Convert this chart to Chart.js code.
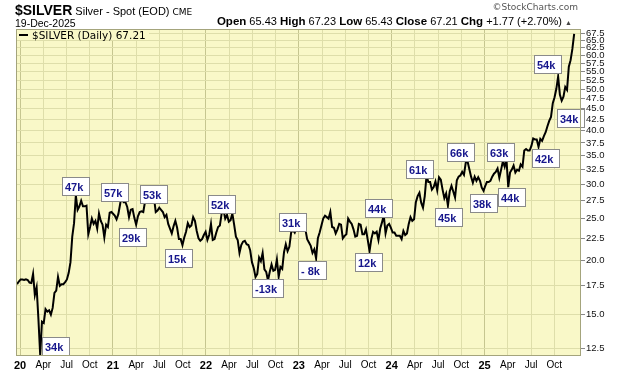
<!DOCTYPE html>
<html><head><meta charset="utf-8">
<script src="https://cdn.jsdelivr.net/npm/chart.js@4.4.1/dist/chart.umd.min.js"></script>
<style>
html,body{margin:0;padding:0;background:#fff;}
#wrap{position:relative;width:620px;height:376px;overflow:hidden;font-family:"Liberation Sans",Arial,sans-serif;}
#c{position:absolute;left:0;top:0;}
.t{position:absolute;white-space:nowrap;color:#000;line-height:1;}
</style></head><body>
<div id="wrap">
<canvas id="c" width="620" height="376"></canvas>
<div class="t" style="left:15px;top:2px;"><span style="font-size:14px;font-weight:bold;">$SILVER</span><span style="font-size:11px;"> Silver - Spot (EOD) </span><span style="font-size:9px;font-family:'DejaVu Sans';">CME</span></div>
<div class="t" style="left:15px;top:18px;font-size:10.5px;">19-Dec-2025</div>
<div class="t" style="right:48px;top:16px;font-size:11px;"><b style="font-size:11.5px">Open</b> 65.43 <b style="font-size:11.5px">High</b> 67.23 <b style="font-size:11.5px">Low</b> 65.43 <b style="font-size:11.5px">Close</b> 67.21 <b style="font-size:11.5px">Chg</b> +1.77 (+2.70%) <span style="font-size:7px;color:#444;">&#9650;</span></div>
<div class="t" style="right:42px;top:3px;font-size:9px;color:#555;font-family:'DejaVu Sans';">&copy;StockCharts.com</div>
<div class="t" style="left:17px;top:30px;height:10px;padding:0 3px 0 2px;background:#f9f8c8;font-size:10.5px;font-family:'DejaVu Sans';"><span style="display:inline-block;width:9px;height:2px;background:#000;vertical-align:3px;margin-right:4px;"></span>$SILVER (Daily) 67.21</div>
</div>
<script>
// ---- data (weekly closes) ----
const years = [2020, 2021, 2022, 2023, 2024, 2025];
const firstFridayDOY = [2, 7, 6, 5, 4, 2];
const lead2019 = [17.60, 17.85];           // Dec 20, Dec 27 2019
const s2020 = [18.05,18.05,18.00,18.07,18.00, 17.75,17.70,18.60,16.60, 17.30,14.60,12.05,14.40,
  14.30,15.40,15.20,15.30, 14.95,15.50,16.80,17.00,18.30, 17.45,17.60,17.60,17.80,
  18.05,18.70,19.80,22.70,24.40, 28.30,26.20,26.70,27.50, 26.70,26.70,26.80,23.00,
  23.90,25.00,24.30,24.70,23.70, 25.70,24.70,24.20,22.60, 24.20,23.90,25.80,25.90];
const s2021 = [25.40,24.90,25.60,27.00, 28.60,27.30,27.30,26.60, 25.20,26.20,26.30,25.10,
  24.20,25.30,25.90,26.00,25.90, 27.40,27.40,27.90,27.90, 27.90,28.00,25.90,26.10,
  26.50,26.20,25.90,25.20,25.50, 24.30,23.70,23.10,24.00, 24.70,23.80,22.40,22.40,
  21.70,22.60,23.30,24.40,23.90, 24.10,25.20,24.70,23.40, 22.50,22.20,22.40,22.90,23.30];
const s2022 = [22.30,22.90,24.30,22.30, 22.40,23.20,23.90,24.10, 25.70,26.20,25.00,25.50,
  24.60,24.80,25.70,24.20,22.70, 22.30,20.80,21.70,22.10, 22.20,21.80,21.70,21.10,
  19.80,19.20,18.30,18.60,20.30, 19.90,20.80,19.05,18.80, 17.95,18.80,19.55,18.90,19.00,
  20.10,18.30,19.30,19.10, 20.90,21.80,21.00,21.50, 23.20,23.50,23.20,23.80,24.00];
const s2023 = [23.90,24.30,23.90,23.60, 22.40,22.00,21.60,20.80, 21.20,20.20,22.50,23.20,24.10,
  25.00,25.40,25.20,25.00, 25.90,23.90,23.80,23.10, 23.60,24.30,24.20,22.50,22.80,
  23.00,25.00,24.60,24.30, 23.60,22.70,22.80,24.30, 24.20,23.00,23.00,23.60,22.30,
  21.00,22.40,23.30,23.10, 23.30,22.30,23.70,24.50, 25.40,23.10,24.10,24.30,23.80];
const s2024 = [23.20,23.20,22.80,22.80, 22.80,22.40,23.40,22.90, 23.10,24.30,25.20,24.70,24.90,
  27.30,28.20,28.70,27.20, 26.50,28.20,31.50,30.40,30.40, 29.20,29.60,30.50,29.10,
  31.20,30.80,29.20,27.90, 28.60,26.80,28.90,29.80,28.90, 28.00,30.70,31.30,31.50,
  32.10,31.60,33.70,34.00, 32.60,31.30,30.30,31.30,30.60, 31.20,30.60,29.50,29.00];
const s2025 = [29.70,30.40,30.40,30.60,31.30, 31.80,32.10,32.70,31.10, 32.50,34.00,33.00,34.30,
  29.60,32.00,32.50,33.20, 32.00,32.50,32.30,33.40,33.00, 36.00,36.30,36.00,36.00,
  36.90,38.40,38.20,38.20, 36.70,38.30,37.90,38.90,39.70, 41.00,42.20,43.10,46.40,
  47.90,50.10,53.50,48.50,47.00, 48.00,50.60,49.80,56.40, 58.40,62.00,67.21];
const series = [s2020, s2021, s2022, s2023, s2024, s2025];

const yTicks = [12.5,15.0,17.5,20.0,22.5,25.0,27.5,30.0,32.5,35.0,37.5,40.0,42.5,45.0,47.5,50.0,52.5,55.0,57.5,60.0,62.5,65.0,67.5];
const monthNames = ['', 'Apr', 'Jul', 'Oct'];

// volume-change call-outs (text, date as decimal year, price level)
const annText = ['34k','47k','57k','53k','29k','15k','52k','-13k','31k','- 8k','12k','44k','61k','45k','66k','38k','63k','44k','42k','54k','34k'];
const annT = [2020.386,2020.602,2021.022,2021.441,2021.215,2021.710,2022.173,2022.668,2022.937,2023.152,2023.755,2023.862,2024.304,2024.616,2024.745,2024.993,2025.176,2025.294,2025.660,2025.682,2025.929];
const annP = [12.63,29.76,28.81,28.51,22.65,20.24,27.03,17.24,24.54,18.97,19.81,26.45,32.59,25.20,35.69,27.17,35.69,28.05,34.56,57.2,42.81];

// ---- build ----
const points = [];
points.push({x: 2019 + 353/365, y: lead2019[0]});
points.push({x: 2019 + 360/365, y: lead2019[1]});
years.forEach((yr, k) => {
  series[k].forEach((v, i) => points.push({x: yr + (firstFridayDOY[k] + 7 * i) / 365, y: v}));
});
const quarterTicks = [];
years.forEach(yr => { for (let q = 0; q < 4; q++) quarterTicks.push(yr + q / 4); });

const FAM = '"Liberation Sans", Arial, sans-serif';
const isYear = v => Math.abs(v - Math.round(v)) < 1e-6;

const bgPlugin = {
  id: 'bg',
  beforeDraw(chart) {
    const {ctx, chartArea: a} = chart;
    ctx.save();
    ctx.fillStyle = '#ffffff';
    ctx.fillRect(0, 0, chart.width, chart.height);
    ctx.fillStyle = '#f9f8c8';
    ctx.fillRect(a.left, a.top, a.right - a.left, a.bottom - a.top);
    ctx.restore();
  },
  afterDraw(chart) {
    const {ctx, chartArea: a} = chart;
    ctx.save();
    ctx.strokeStyle = '#a4a47c';
    ctx.lineWidth = 1;
    ctx.strokeRect(a.left + 0.5, a.top + 0.5, a.right - a.left - 1, a.bottom - a.top - 1);
    ctx.restore();
  }
};

const annPlugin = {
  id: 'ann',
  afterDatasetsDraw(chart) {
    const {ctx} = chart;
    const xs = chart.scales.x, ys = chart.scales.y;
    ctx.save();
    ctx.font = 'bold 11px ' + FAM;
    ctx.textBaseline = 'middle';
    annText.forEach((t, i) => {
      const cx = xs.getPixelForValue(annT[i]);
      const cy = ys.getPixelForValue(annP[i]);
      const w = Math.round(ctx.measureText(t).width) + 10, h = 19;
      const x0 = Math.round(cx - w / 2), y0 = Math.round(cy - h / 2);
      ctx.fillStyle = '#ffffff';
      ctx.fillRect(x0, y0, w, h);
      ctx.strokeStyle = '#8a8a8a';
      ctx.lineWidth = 1;
      ctx.strokeRect(x0 + 0.5, y0 + 0.5, w - 1, h - 1);
      ctx.fillStyle = '#16168c';
      ctx.fillText(t, x0 + 3, y0 + h / 2 + 1);
    });
    ctx.restore();
  }
};

new Chart(document.getElementById('c'), {
  type: 'line',
  data: {datasets: [{data: points, borderColor: '#000', borderWidth: 2, pointRadius: 0, tension: 0, fill: false}]},
  options: {
    responsive: false, animation: false, parsing: true,
    layout: {padding: {left: 16, top: 29, right: 0, bottom: 0}},
    plugins: {legend: {display: false}, tooltip: {enabled: false}},
    scales: {
      x: {
        type: 'linear', min: 2019.956, max: 2026.038,
        afterBuildTicks: s => { s.ticks = quarterTicks.map(v => ({value: v})); },
        afterFit: s => { s.height = 20; },
        border: {display: false},
        grid: {drawTicks: false, lineWidth: 1, color: c => (c.tick && isYear(c.tick.value)) ? '#c6c690' : '#dedeaa'},
        ticks: {
          padding: 3, autoSkip: false, maxRotation: 0, color: '#000',
          font: c => (c.tick && isYear(c.tick.value)) ? {family: FAM, size: 11, weight: 'bold'} : {family: FAM, size: 10},
          callback: v => { const y = Math.floor(v + 1e-6); const q = Math.round((v - y) * 4); return q === 0 ? String(y).slice(2) : monthNames[q]; }
        }
      },
      y: {
        type: 'logarithmic', position: 'right', min: 11.98, max: 69.0,
        afterBuildTicks: s => { s.ticks = yTicks.map(v => ({value: v})); },
        afterFit: s => { s.width = 39; },
        border: {display: false},
        grid: {color: '#dedeaa', tickLength: 4, tickColor: '#888'},
        ticks: {autoSkip: false, padding: 1, color: '#111', font: {family: FAM, size: 9.5}, callback: v => Number(v).toFixed(1)}
      }
    }
  },
  plugins: [bgPlugin, annPlugin]
});
</script>
</body></html>
